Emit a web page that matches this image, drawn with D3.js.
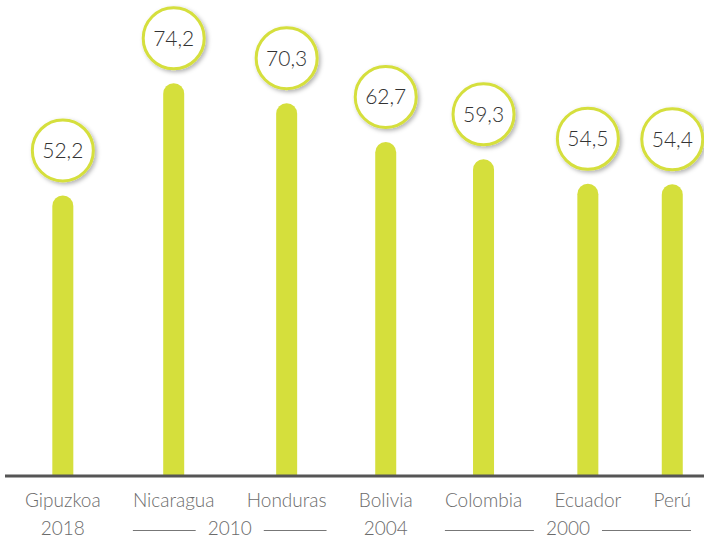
<!DOCTYPE html>
<html><head><meta charset="utf-8">
<script src="https://cdn.jsdelivr.net/npm/d3@7"></script>
<style>body{margin:0;background:#fff}svg{display:block}</style>
</head><body>
<svg id="c" width="704" height="537"></svg>
<script>
const categories = ["Gipuzkoa","Nicaragua","Honduras","Bolivia","Colombia","Ecuador","Perú"];
const values = [52.2,74.2,70.3,62.7,59.3,54.5,54.4];
const valueLabels = ["52,2","74,2","70,3","62,7","59,3","54,5","54,4"];
const yearGroups = [
  {year:"2018", from:0, to:0},
  {year:"2010", from:1, to:2},
  {year:"2004", from:3, to:3},
  {year:"2000", from:4, to:6}
];

const W=704, H=537, baseY=476, lime="#d5df3c";
const font="Lato, 'Open Sans', sans-serif";
const svg=d3.select("#c");

const defs=svg.append("defs");
const f=defs.append("filter").attr("id","sh").attr("x","-30%").attr("y","-30%").attr("width","170%").attr("height","170%");
f.append("feDropShadow").attr("dx",2).attr("dy",2).attr("stdDeviation",2).attr("flood-color","#000").attr("flood-opacity",0.3);

// lay categories out by label widths, equal gaps, spanning the label row
const labelSize=19, rowL=25, rowR=691;
const tmp=svg.append("text").attr("font-family",font).attr("font-size",labelSize).attr("font-weight",300);
const widths=categories.map(c=>{tmp.text(c);return tmp.node().getComputedTextLength();});
tmp.remove();
const gap=(rowR-rowL-d3.sum(widths))/(categories.length-1);
let cx=rowL; const centers=[], lefts=[], rights=[];
widths.forEach(w=>{lefts.push(cx);centers.push(cx+w/2);rights.push(cx+w);cx+=w+gap;});
const x=d3.scaleOrdinal().domain(categories).range(centers);

const y=d3.scaleLinear().domain([0,80]).range([461.7,53.7]);
const bw=21;

// bars with rounded tops
svg.append("g").selectAll("path").data(values).join("path")
  .attr("fill",lime)
  .attr("d",(v,i)=>{
    const xc=x(categories[i]), t=y(v), r=bw/2;
    return `M${xc-r},${baseY}V${t+r}A${r},${r} 0 0 1 ${xc+r},${t+r}V${baseY}Z`;
  });

// baseline
svg.append("line").attr("x1",5).attr("x2",W).attr("y1",baseY).attr("y2",baseY)
  .attr("stroke","#555").attr("stroke-width",3);

// circles
const g=svg.append("g").selectAll("g").data(values).join("g")
  .attr("transform",(v,i)=>`translate(${x(categories[i])},${y(v)-45})`);
g.append("circle").attr("r",30.5).attr("fill","#fff").attr("stroke",lime).attr("stroke-width",3).attr("filter","url(#sh)");
g.append("text").attr("text-anchor","middle").attr("dy","0.36em")
  .attr("font-family",font).attr("font-size",21).attr("font-weight",300).attr("fill","#333")
  .text((v,i)=>valueLabels[i]);

// category labels
svg.append("g").selectAll("text").data(categories).join("text")
  .attr("x",d=>x(d)).attr("y",507).attr("text-anchor","middle")
  .attr("font-family",font).attr("font-size",labelSize).attr("font-weight",300).attr("fill","#6b6b6b")
  .text(d=>d);

// year labels
const yg=svg.append("g");
yearGroups.forEach(gr=>{
  const l=lefts[gr.from], r=rights[gr.to], m=(l+r)/2;
  const t=yg.append("text").attr("x",m).attr("y",535).attr("text-anchor","middle")
    .attr("font-family",font).attr("font-size",labelSize).attr("font-weight",300).attr("fill","#6b6b6b").text(gr.year);
  if(gr.to>gr.from){
    const tw=t.node().getComputedTextLength();
    yg.append("line").attr("x1",l).attr("x2",m-tw/2-12).attr("y1",530.5).attr("y2",530.5).attr("stroke","#777").attr("stroke-width",1);
    yg.append("line").attr("x1",m+tw/2+12).attr("x2",r).attr("y1",530.5).attr("y2",530.5).attr("stroke","#777").attr("stroke-width",1);
  }
});
</script>
</body></html>
